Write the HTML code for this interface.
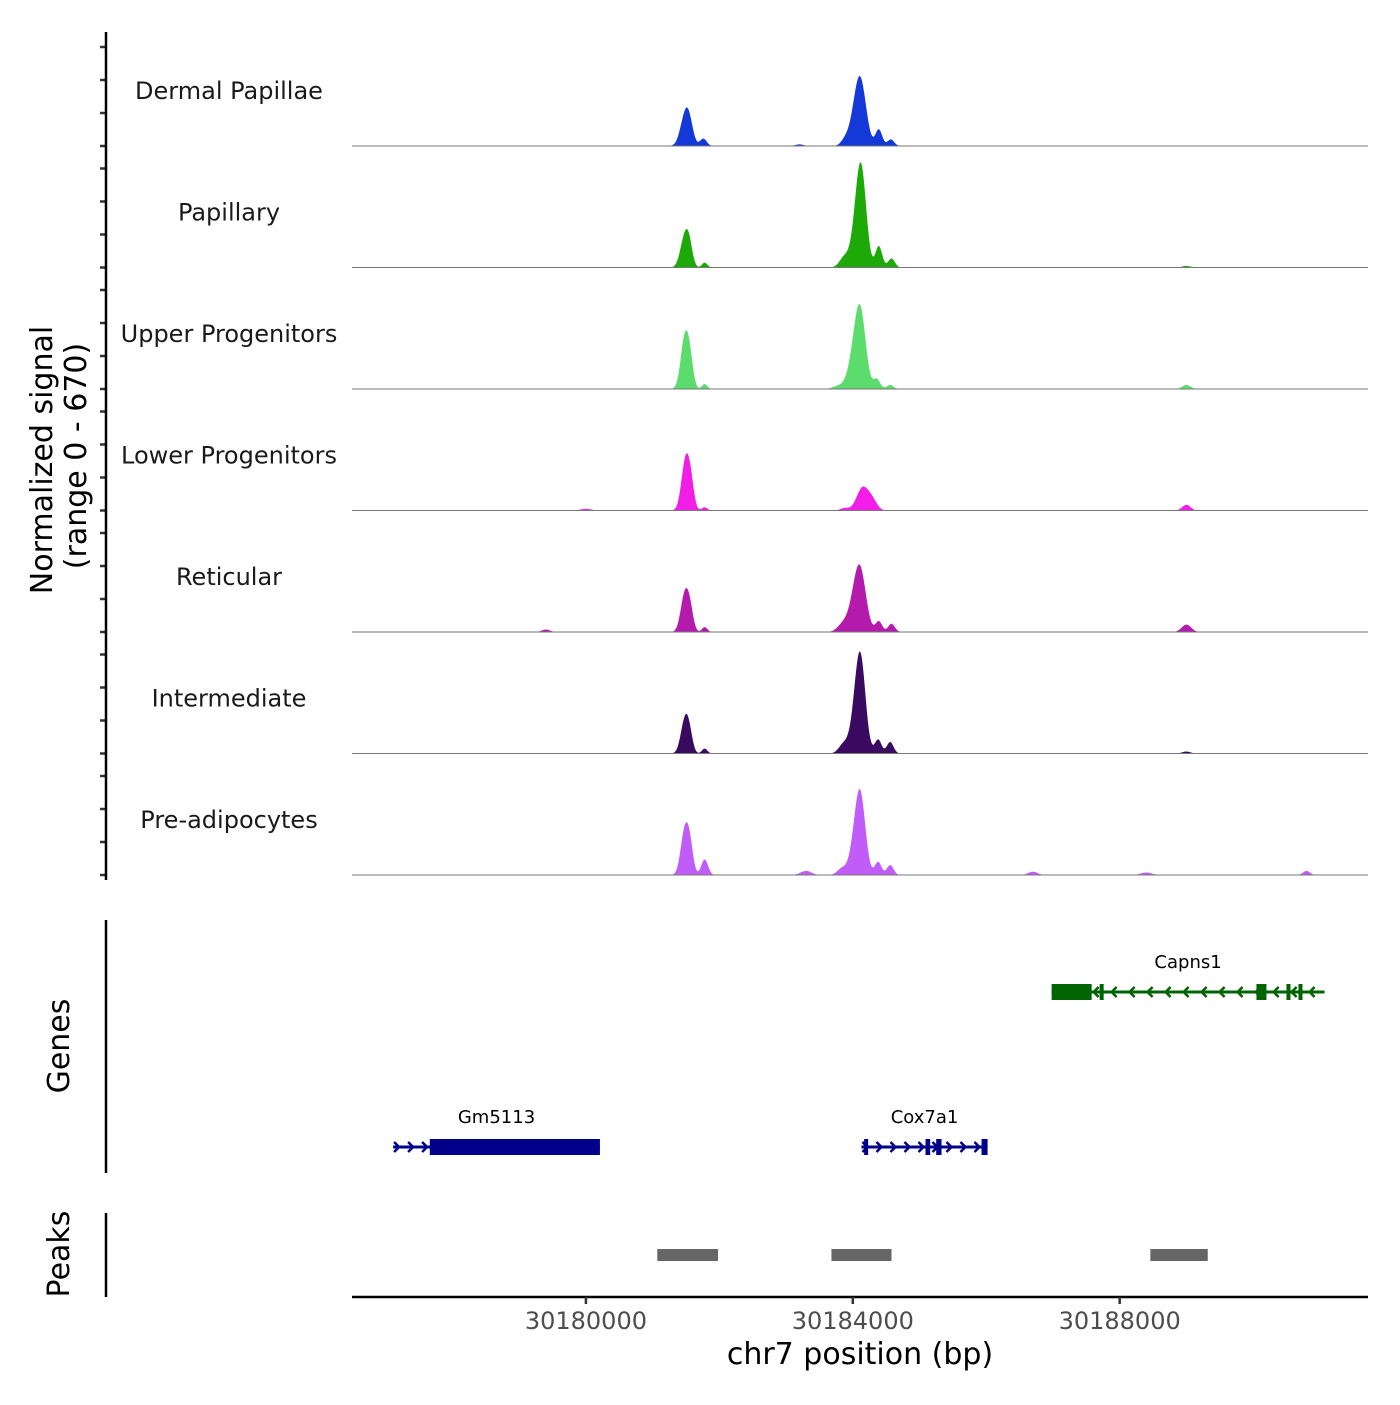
<!DOCTYPE html>
<html><head><meta charset="utf-8"><style>
body{margin:0;background:#fff;}
svg text{font-family:"DejaVu Sans","Liberation Sans",sans-serif;}
</style></head><body>
<svg id="chart" width="1400" height="1400" viewBox="0 0 1400 1400" xmlns="http://www.w3.org/2000/svg">
<rect width="1400" height="1400" fill="#fff"/>
<g id="tracks"></g>
<g id="genes"></g>
<g id="peaks"></g>
<g id="axes"></g>
</svg>
<script>
const trackNames = ["Dermal Papillae","Papillary","Upper Progenitors","Lower Progenitors","Reticular","Intermediate","Pre-adipocytes"];
const trackColors = ["#1439d8","#1daa08","#5cdc6c","#f21ee8","#b41aac","#3a0a60","#c05cf8"];
// peaks per track: [position bp, height (signal units), sigma bp]
const peaksDermal = [[30181480,160,70],[30181550,110,60],[30181760,45,50],[30184120,330,85],[30184040,130,90],[30184390,100,50],[30184570,40,50],[30183880,30,60],[30183200,10,60]];
const peaksPapillary = [[30181480,180,65],[30181550,100,50],[30181780,30,40],[30184130,520,75],[30184050,180,80],[30183870,60,70],[30184390,130,50],[30184580,55,50],[30189000,10,60]];
const peaksUpper = [[30181480,300,60],[30181560,150,50],[30181780,30,40],[30184120,380,80],[30184030,200,90],[30184360,60,50],[30184560,25,50],[30183800,20,90],[30189000,25,60]];
const peaksLower = [[30181490,290,60],[30181570,150,50],[30181780,20,40],[30184150,140,90],[30184300,50,70],[30183880,15,60],[30189000,35,60],[30180000,10,80]];
const peaksReticular = [[30181480,220,60],[30181560,120,50],[30181780,30,40],[30184120,300,85],[30184030,160,90],[30183850,45,80],[30184390,65,50],[30184580,50,50],[30189000,45,70],[30179400,15,60]];
const peaksIntermediate = [[30181480,190,60],[30181550,100,50],[30181780,30,40],[30184120,500,75],[30184040,180,80],[30183860,55,70],[30184380,85,50],[30184560,70,50],[30189000,12,60]];
const peaksPreadipocytes = [[30181480,260,60],[30181560,150,50],[30181780,95,50],[30184120,400,75],[30184040,180,80],[30183840,40,70],[30184380,80,50],[30184560,60,50],[30183300,25,80],[30186700,20,70],[30190800,25,50],[30188400,15,80]];
const trackPeaks = [peaksDermal,peaksPapillary,peaksUpper,peaksLower,peaksReticular,peaksIntermediate,peaksPreadipocytes];
const xTicks = [30180000,30184000,30188000];
const yTicks = [0,200,400,600];
const genes = [
 {name:"Capns1",color:"#006400",row:0,start:30186980,end:30191070,strand:-1,exons:[[30186980,30187580,1],[30187700,30187760,1],[30190050,30190200,1],[30190500,30190560,1],[30190680,30190740,1]]},
 {name:"Gm5113",color:"#00008b",row:1,start:30177110,end:30180210,strand:1,exons:[[30177660,30180210,1]]},
 {name:"Cox7a1",color:"#00008b",row:1,start:30184130,end:30186020,strand:1,exons:[[30184170,30184230,1],[30185090,30185160,1],[30185250,30185330,1],[30185930,30186020,1]]}
];
const peakRegions = [[30181070,30181980],[30183680,30184580],[30188460,30189320]];

const X0=352,X1=1368,BP0=30176494,BP1=30191722;
const x=bp=>X0+(bp-BP0)/(BP1-BP0)*(X1-X0);
const yScale=0.165, trackH=121.5, base0=146;
const NS="http://www.w3.org/2000/svg";
function mk(tag,attrs,parent){const e=document.createElementNS(NS,tag);for(const k in attrs)e.setAttribute(k,attrs[k]);parent.appendChild(e);return e;}
const tracksG=document.getElementById('tracks'),axesG=document.getElementById('axes'),genesG=document.getElementById('genes'),peaksG=document.getElementById('peaks');

trackNames.forEach((name,i)=>{
  const b=base0+i*trackH;
  let pts=[`${X0},${b}`];
  for(let px=X0;px<=X1;px+=1){
    const bp=BP0+(px-X0)/(X1-X0)*(BP1-BP0);
    let v=0;trackPeaks[i].forEach(p=>{const d=(bp-p[0])/p[2];v+=p[1]*Math.exp(-0.5*d*d);});
    pts.push(`${px},${(b-Math.min(v,670)*yScale).toFixed(1)}`);
  }
  pts.push(`${X1},${b}`);
  const poly=mk('polygon',{points:pts.join(' '),fill:trackColors[i]},tracksG);
  
  
  const ln=mk('line',{x1:X0,x2:X1,y1:b,y2:b,stroke:'#777','stroke-width':1},tracksG);
  
  
  const t=mk('text',{x:229,y:b-47,'font-size':24,'text-anchor':'middle',fill:'#1a1a1a'},tracksG);
  t.textContent=name;
  
  
  yTicks.forEach(v=>{
    const ty=b-v*yScale;
    const tk=mk('line',{x1:100,x2:106,y1:ty,y2:ty,stroke:'#333','stroke-width':2.5},axesG);
    
    
  });
});
[[32,880],[920,1173],[1213,1297]].forEach(s=>{
  const l=mk('line',{x1:106,x2:106,y1:s[0],y2:s[1],stroke:'#000','stroke-width':2.5},axesG);
  
  
});
function rtext(cx,cy,txt,size,nm){const t=mk('text',{x:0,y:0,'font-size':size,'text-anchor':'middle',transform:`translate(${cx},${cy}) rotate(-90)`},axesG);t.textContent=txt;
  
  }
rtext(52,460,"Normalized signal",30,'y-axis-title');
rtext(86,456,"(range 0 - 670)",30,'y-axis-subtitle');
rtext(69,1046,"Genes",30,'genes-axis-title');
rtext(69,1254,"Peaks",30,'peaks-axis-title');
const ax=mk('line',{x1:X0,x2:X1,y1:1297,y2:1297,stroke:'#000','stroke-width':2.5},axesG);


xTicks.forEach(v=>{
  const tk=mk('line',{x1:x(v),x2:x(v),y1:1297,y2:1304,stroke:'#333','stroke-width':2.5},axesG);
  
  
  const t=mk('text',{x:x(v),y:1329,'font-size':24,'text-anchor':'middle',fill:'#4d4d4d'},axesG);
  t.textContent=v;
  
  
});
const xt=mk('text',{x:860,y:1364,'font-size':30,'text-anchor':'middle',fill:'#000'},axesG);
xt.textContent="chr7 position (bp)";


genes.forEach(g=>{
  const gy=g.row===0?992:1147;
  const G=mk('g',{},genesG);
  
  
  mk('line',{x1:x(g.start),x2:x(g.end),y1:gy,y2:gy,stroke:g.color,'stroke-width':3},G);
  const step=g.name==="Capns1"?18:14;
  for(let px=x(g.start)+6;px<x(g.end)-4;px+=step){
    const d=g.strand*5;
    mk('polyline',{points:`${px-d},${gy-5} ${px},${gy} ${px-d},${gy+5}`,fill:'none',stroke:g.color,'stroke-width':2.5},G);
  }
  g.exons.forEach(e=>{
    const w=Math.max(x(e[1])-x(e[0]),4);
    mk('rect',{x:x(e[0]),y:gy-8,width:w,height:16,fill:g.color},G);
  });
  const t=mk('text',{x:(x(g.start)+x(g.end))/2,y:gy-24,'font-size':18,'text-anchor':'middle',fill:'#000'},G);
  t.textContent=g.name;
});
peakRegions.forEach(p=>{
  const r=mk('rect',{x:x(p[0]),y:1249,width:x(p[1])-x(p[0]),height:12,fill:'#666'},peaksG);
  
  
});
</script>
</body></html>
